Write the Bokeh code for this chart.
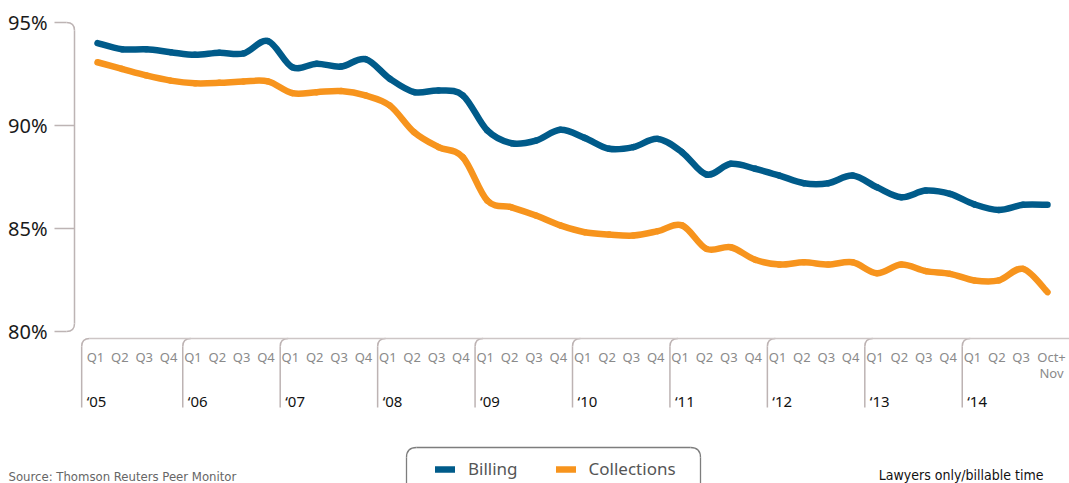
from bokeh.plotting import figure
from bokeh.models import Range1d, Label, Legend, LegendItem, ColumnDataSource
from bokeh.core.properties import value
from bokeh.embed import file_html
from bokeh.resources import INLINE

# ---------------- data ----------------
quarter_labels = ["Q1", "Q2", "Q3", "Q4"] * 9 + ["Q1", "Q2", "Q3", "Oct+\nNov"]
year_labels = ["‘05", "‘06", "‘07", "‘08", "‘09", "‘10", "‘11", "‘12", "‘13", "‘14"]
billing = [94.0, 93.7, 93.7, 93.56, 93.43, 93.53, 93.5, 94.1, 92.83, 93.0,
           92.86, 93.22, 92.27, 91.62, 91.7, 91.46, 89.76, 89.14, 89.27, 89.79,
           89.4, 88.87, 88.95, 89.35, 88.7, 87.62, 88.14, 87.9, 87.57, 87.2,
           87.2, 87.57, 87.0, 86.52, 86.84, 86.68, 86.17, 85.9, 86.15, 86.15]
collections = [93.07, 92.75, 92.43, 92.18, 92.05, 92.07, 92.14, 92.14, 91.57, 91.62,
               91.67, 91.46, 90.97, 89.67, 88.95, 88.46, 86.36, 86.03, 85.63, 85.15,
               84.82, 84.71, 84.66, 84.87, 85.15, 84.01, 84.09, 83.48, 83.25, 83.36,
               83.25, 83.36, 82.83, 83.25, 82.93, 82.8, 82.48, 82.48, 83.04, 81.91]
y_ticks = [80, 85, 90, 95]
y_tick_labels = ["80%", "85%", "90%", "95%"]
series_names = ["Billing", "Collections"]
series_colors = ["#005b8a", "#f7941d"]

# ---------------- geometry helpers ----------------
W, H = 1069, 483
PX_X = 950.0 / 39.0          # pixels per quarter
PX_Y = 20.6                  # pixels per percentage point
X_START = -97.0 / PX_X
Y_TOP = 95.0 + 22.0 / PX_Y


def X(sx):
    return X_START + sx / PX_X


def Y(sy):
    return Y_TOP - sy / PX_Y


def dx(px):
    return px / PX_X


def dy(px):
    return px / PX_Y


p = figure(width=W, height=H, output_backend="svg", toolbar_location=None,
           x_axis_type=None, y_axis_type=None, min_border=0,
           x_range=Range1d(X_START, X_START + W / PX_X),
           y_range=Range1d(Y_TOP - H / PX_Y, Y_TOP))
p.grid.visible = False
p.outline_line_color = None
p.background_fill_color = "white"

FONT_NAME = "Noto Sans"
NARROW_NAME = "Liberation Sans Narrow, DejaVu Sans Condensed, sans-serif"
FONT = value(FONT_NAME)
AX_COL = "#bdb4b4"

# ---------------- y axis (rounded ends) ----------------
ax = X(74)
r = 8
p.segment(x0=[ax], y0=[80 + dy(r)], x1=[ax], y1=[95 - dy(r)], line_color=AX_COL, line_width=1.5)
mid_ticks = [t for t in y_ticks if t not in (80, 95)]
p.segment(x0=[X(54)] * len(mid_ticks), y0=mid_ticks, x1=[ax] * len(mid_ticks), y1=mid_ticks,
          line_color=AX_COL, line_width=1.5)
p.segment(x0=[X(54), X(54)], y0=[95, 80], x1=[ax - dx(r), ax - dx(r)], y1=[95, 80],
          line_color=AX_COL, line_width=1.5)
p.quadratic(x0=[ax - dx(r), ax - dx(r)], y0=[95, 80], x1=[ax, ax], y1=[95 - dy(r), 80 + dy(r)],
            cx=[ax, ax], cy=[95, 80], line_color=AX_COL, line_width=1.5)
p.text(x=[X(47)] * len(y_ticks), y=y_ticks, text=y_tick_labels, text_align="right",
       text_baseline="middle", text_font=FONT, text_font_size="20px", text_color="#1a1a1a")

# ---------------- x axis brackets ----------------
bx = [4 * k - 0.5 for k in range(len(year_labels))]
bx[0] = -0.65
top_y = Y(338)
bot_y = Y(407)
BR_COL = "#bdb3b3"
p.segment(x0=bx, y0=[bot_y] * len(bx), x1=bx, y1=[top_y - dy(r)] * len(bx),
          line_color=BR_COL, line_width=1.5)
p.quadratic(x0=bx, y0=[top_y - dy(r)] * len(bx), x1=[b + dx(r) for b in bx], y1=[top_y] * len(bx),
            cx=bx, cy=[top_y] * len(bx), line_color=BR_COL, line_width=1.5)
p.segment(x0=[bx[0] + dx(r)], y0=[top_y], x1=[X(1069)], y1=[top_y],
          line_color="#cdc6c6", line_width=1.5)

qx = list(range(len(quarter_labels)))
q_shift = [dx(-2)] * (len(qx) - 1) + [dx(4)]
p.text(x=[q + s for q, s in zip(qx, q_shift)], y=[Y(347)] * len(qx), text=quarter_labels,
       text_align="center", text_baseline="top", text_font=FONT, text_font_size="13px",
       text_color="#8a8a8a", text_line_height=0.9)
p.text(x=[b + dx(5) for b in bx], y=[Y(400)] * len(bx), text=year_labels,
       text_align="left", text_baseline="middle", text_font=FONT, text_font_size="15px",
       text_color="#111111")


# ---------------- smooth series lines ----------------
def bezier_source(vals):
    n = len(vals)
    xs = list(range(n))
    d = dict(x0=[], y0=[], x1=[], y1=[], cx0=[], cy0=[], cx1=[], cy1=[])
    for i in range(n - 1):
        im = max(i - 1, 0)
        ip = min(i + 2, n - 1)
        d["x0"].append(xs[i]); d["y0"].append(vals[i])
        d["x1"].append(xs[i + 1]); d["y1"].append(vals[i + 1])
        d["cx0"].append(xs[i] + (xs[i + 1] - xs[im]) / 6.0)
        d["cy0"].append(vals[i] + (vals[i + 1] - vals[im]) / 6.0)
        d["cx1"].append(xs[i + 1] - (xs[ip] - xs[i]) / 6.0)
        d["cy1"].append(vals[i + 1] - (vals[ip] - vals[i]) / 6.0)
    return ColumnDataSource(d)


renderers = []
for vals, col in zip([billing, collections], series_colors):
    rr = p.bezier(x0="x0", y0="y0", x1="x1", y1="y1", cx0="cx0", cy0="cy0", cx1="cx1", cy1="cy1",
                  source=bezier_source(vals), line_color=col, line_width=6.5, line_cap="round")
    renderers.append(rr)

# ---------------- legend ----------------
lb_l, lb_r, lb_t = X(406), X(700), Y(447)
LG_COL = "#7d7d7d"
rl = 10
p.segment(x0=[lb_l, lb_r], y0=[lb_t - dy(rl)] * 2, x1=[lb_l, lb_r], y1=[Y(520)] * 2,
          line_color=LG_COL, line_width=1.3)
p.segment(x0=[lb_l + dx(rl)], y0=[lb_t], x1=[lb_r - dx(rl)], y1=[lb_t], line_color=LG_COL, line_width=1.3)
p.quadratic(x0=[lb_l, lb_r], y0=[lb_t - dy(rl)] * 2, x1=[lb_l + dx(rl), lb_r - dx(rl)], y1=[lb_t] * 2,
            cx=[lb_l, lb_r], cy=[lb_t] * 2, line_color=LG_COL, line_width=1.3)

legend = Legend(items=[LegendItem(label=n, renderers=[rr]) for n, rr in zip(series_names, renderers)],
                orientation="horizontal", location=(435, 3), padding=0, margin=0,
                glyph_width=20, glyph_height=20, label_height=20, label_standoff=13, spacing=38,
                border_line_alpha=0, background_fill_alpha=0,
                label_text_font=FONT_NAME, label_text_font_size="17px", label_text_color="#555555")
p.add_layout(legend)

# ---------------- footnotes ----------------
p.add_layout(Label(x=8, y=0, x_units="screen", y_units="screen", text="Source: Thomson Reuters Peer Monitor",
                   text_font=NARROW_NAME, text_font_size="13px", text_color="#666666", text_baseline="bottom"))
p.add_layout(Label(x=1043, y=1, x_units="screen", y_units="screen", text="Lawyers only/billable time",
                   text_font=NARROW_NAME, text_font_size="14px", text_color="#111111", text_baseline="bottom",
                   text_align="right"))

open("out.html", "w").write(file_html(p, INLINE))
